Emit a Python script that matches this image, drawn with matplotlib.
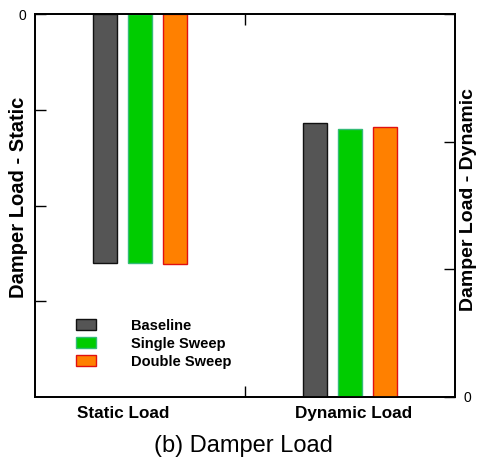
import matplotlib
matplotlib.use("Agg")
import matplotlib.pyplot as plt
from matplotlib.patches import Patch

plt.rcParams['font.family'] = ['Liberation Sans', 'DejaVu Sans']

# data (arbitrary units)
series = ['Baseline', 'Single Sweep', 'Double Sweep']
static_load = [2.60, 2.60, 2.615]     # left axis, drawn downward from 0
dynamic_load = [2.15, 2.10, 2.115]    # right axis, drawn upward from 0
categories = ['Static Load', 'Dynamic Load']

face_colors = ['#555555', '#00cc00', '#ff8000']
edge_colors = ['#111111', '#33bb77', '#e01010']

fig = plt.figure(figsize=(4.78, 4.58), dpi=100)
ax = fig.add_axes([35 / 478, 61 / 458, 420 / 478, 383 / 458])
ax2 = ax.twinx()

width = 0.114
offsets = [-0.1667, 0.0, 0.1667]

for i in range(len(series)):
    ax.bar(0.5 + offsets[i], static_load[i], width=width, bottom=0,
           color=face_colors[i], edgecolor=edge_colors[i], linewidth=1.0)
    ax2.bar(1.5 + offsets[i], dynamic_load[i], width=width, bottom=0,
            color=face_colors[i], edgecolor=edge_colors[i], linewidth=1.0)

ax.set_xlim(0, 2)
ax.set_ylim(4, 0)
ax2.set_ylim(0, 3)

# y ticks: only the zero gets a label
ax.set_yticks([0, 1, 2, 3])
ax.set_yticklabels(['0', '', '', ''])
ax2.set_yticks([0, 1, 2, 3])
ax2.set_yticklabels(['0', '', '', ''])
ax.tick_params(axis='y', direction='in', length=8, width=1, labelsize=10, pad=6)
ax2.tick_params(axis='y', direction='in', length=8, width=1, labelsize=10, pad=6)

# group separator as a minor tick, category names as plain text below
ax.set_xticks([])
ax.set_xticks([1.0], minor=True)
ax.tick_params(axis='x', which='minor', direction='in', length=8, width=1,
               top=True, bottom=True, labelbottom=False)
xform = ax.get_xaxis_transform()
ax.text(0.419, -0.043, categories[0], transform=xform, ha='center', va='center',
        fontsize=12.3, fontweight='bold')
ax.text(1.519, -0.043, categories[1], transform=xform, ha='center', va='center',
        fontsize=12.3, fontweight='bold')

for a in (ax, ax2):
    for s in a.spines.values():
        s.set_linewidth(1.3)

ax.set_ylabel('Damper Load - Static', fontsize=14.5, fontweight='bold')
ax.yaxis.set_label_coords(-0.017, 0.52)
ax2.set_ylabel('Damper Load - Dynamic', fontsize=14, fontweight='bold',
               rotation=90)
ax2.yaxis.set_label_coords(1.012, 0.515)

handles = [Patch(facecolor=face_colors[i], edgecolor=edge_colors[i],
                 linewidth=1.0, label=series[i]) for i in range(len(series))]
ax.legend(handles=handles, loc='upper left', bbox_to_anchor=(0.07, 0.235),
          frameon=False, handlelength=1.37, handleheight=0.82,
          handletextpad=2.4, labelspacing=0.27, borderpad=0.3,
          prop={'weight': 'bold', 'size': 10.5})

fig.text(243 / 478, 1 - 446 / 458, '(b) Damper Load', ha='center',
         va='center', fontsize=17)

fig.savefig('out.png', dpi=100)
